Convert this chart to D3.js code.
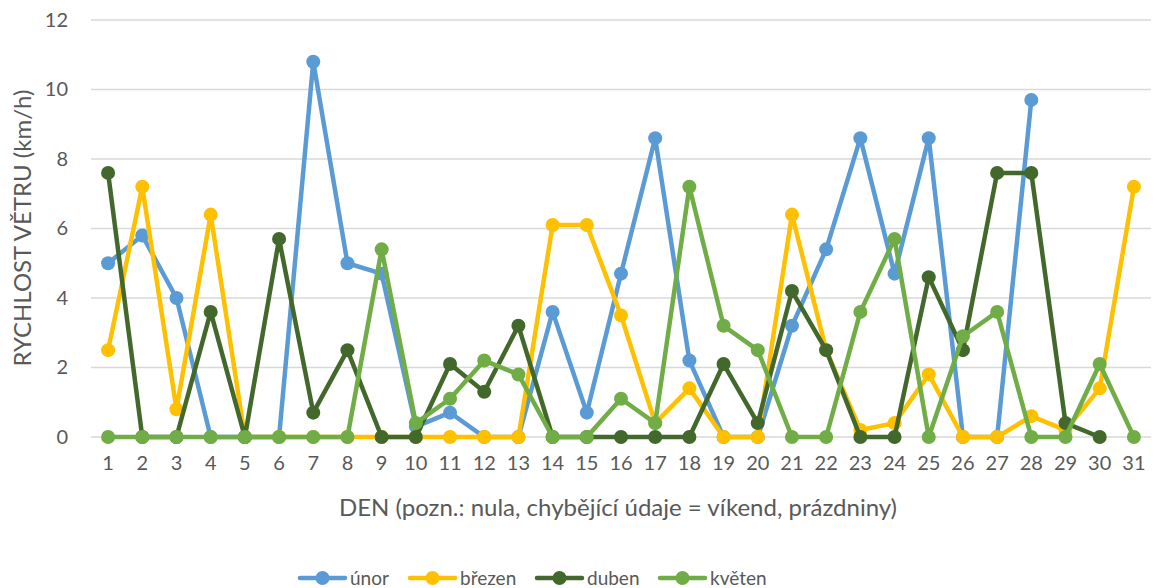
<!DOCTYPE html>
<html>
<head>
<meta charset="utf-8">
<script src="https://cdn.jsdelivr.net/npm/d3@7"></script>
<style>
  body { margin: 0; background: #fff; }
  svg { font-family: Lato, "Open Sans", sans-serif; }
</style>
</head>
<body>
<svg width="1153" height="588"></svg>
<script>
// data (null = no value)
var days = d3.range(1, 32);
var unor   = [5, 5.8, 4, 0, 0, 0, 10.8, 5, 4.7, 0.3, 0.7, 0, 0, 3.6, 0.7, 4.7, 8.6, 2.2, 0, 0, 3.2, 5.4, 8.6, 4.7, 8.6, 0, 0, 9.7, null, null, null];
var brezen = [2.5, 7.2, 0.8, 6.4, 0, 0, 0, 0, 0, 0, 0, 0, 0, 6.1, 6.1, 3.5, 0.4, 1.4, 0, 0, 6.4, 2.5, 0.2, 0.4, 1.8, 0, 0, 0.6, 0.2, 1.4, 7.2];
var duben  = [7.6, 0, 0, 3.6, 0, 5.7, 0.7, 2.5, 0, 0, 2.1, 1.3, 3.2, 0, 0, 0, 0, 0, 2.1, 0.4, 4.2, 2.5, 0, 0, 4.6, 2.5, 7.6, 7.6, 0.4, 0, null];
var kveten = [0, 0, 0, 0, 0, 0, 0, 0, 5.4, 0.4, 1.1, 2.2, 1.8, 0, 0, 1.1, 0.4, 7.2, 3.2, 2.5, 0, 0, 3.6, 5.7, 0, 2.9, 3.6, 0, 0, 2.1, 0];
var seriesNames = ['únor', 'březen', 'duben', 'květen'];
var seriesColors = ['#5B9BD5', '#FFC000', '#43682B', '#70AD47'];
var yTicks = [0, 2, 4, 6, 8, 10, 12];

var allSeries = [unor, brezen, duben, kveten];

var svg = d3.select('svg');
var pLeft = 91, pRight = 1151, pTop = 20, pBottom = 437;

var x = d3.scaleBand().domain(days).range([pLeft, pRight]);
var y = d3.scaleLinear().domain([0, 12]).range([pBottom, pTop]);

// gridlines
svg.append('g').selectAll('line').data(yTicks).enter().append('line')
  .attr('x1', pLeft).attr('x2', pRight)
  .attr('y1', function(d){ return y(d); }).attr('y2', function(d){ return y(d); })
  .attr('stroke', '#D9D9D9').attr('stroke-width', 1.3);

// y axis labels
var yAxis = svg.append('g').attr('transform', 'translate(68,0)')
  .call(d3.axisLeft(y).tickValues(yTicks).tickSize(0).tickPadding(0));
yAxis.select('.domain').remove();
yAxis.selectAll('text').attr('font-size', 20).attr('fill', '#595959').attr('font-family', 'Lato, sans-serif');

// x axis labels
var xAxis = svg.append('g').attr('transform', 'translate(0,' + (pBottom + 19) + ')')
  .call(d3.axisBottom(x).tickSize(0).tickPadding(0));
xAxis.select('.domain').remove();
xAxis.selectAll('text').attr('font-size', 20).attr('fill', '#595959').attr('font-family', 'Lato, sans-serif');

// axis titles
svg.append('text').attr('x', 618).attr('y', 516).attr('text-anchor', 'middle')
  .attr('font-size', 24).attr('fill', '#595959')
  .text('DEN (pozn.: nula, chybějící údaje = víkend, prázdniny)');
svg.append('text').attr('transform', 'translate(31,228) rotate(-90)').attr('text-anchor', 'middle')
  .attr('font-size', 24).attr('fill', '#595959')
  .text('RYCHLOST VĚTRU (km/h)');

// lines + markers
var cx = function(i){ return x(days[i]) + x.bandwidth() / 2; };
var line = d3.line()
  .defined(function(d){ return d != null; })
  .x(function(d, i){ return cx(i); })
  .y(function(d){ return y(d); });

allSeries.forEach(function(vals, s) {
  var g = svg.append('g');
  g.append('path').datum(vals).attr('d', line)
    .attr('fill', 'none').attr('stroke', seriesColors[s]).attr('stroke-width', 4.5)
    .attr('stroke-linejoin', 'round').attr('stroke-linecap', 'round');
  g.selectAll('circle').data(vals.map(function(v, i){ return {v: v, i: i}; }).filter(function(d){ return d.v != null; }))
    .enter().append('circle')
    .attr('cx', function(d){ return cx(d.i); }).attr('cy', function(d){ return y(d.v); })
    .attr('r', 7).attr('fill', seriesColors[s]);
});

// legend
var legendX = [300, 410, 537, 660];
var leg = svg.append('g');
seriesNames.forEach(function(name, s) {
  var lx = legendX[s], ly = 578;
  leg.append('line').attr('x1', lx).attr('x2', lx + 45).attr('y1', ly).attr('y2', ly)
    .attr('stroke', seriesColors[s]).attr('stroke-width', 4.5).attr('stroke-linecap', 'round');
  leg.append('circle').attr('cx', lx + 22.5).attr('cy', ly).attr('r', 7).attr('fill', seriesColors[s]);
  leg.append('text').attr('x', lx + 50).attr('y', 585).attr('font-size', 19).attr('fill', '#595959').text(name);
});
</script>
</body>
</html>
